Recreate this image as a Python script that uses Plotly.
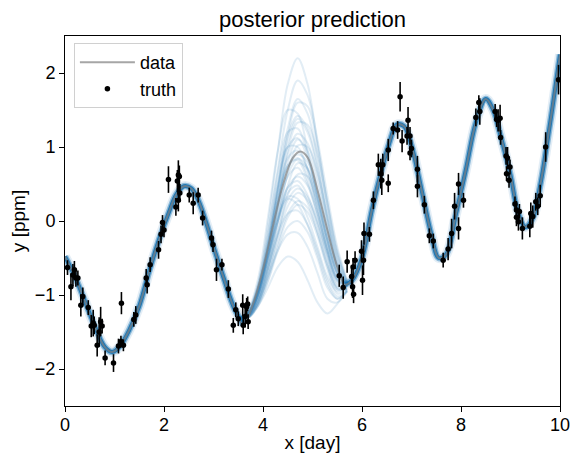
import plotly.graph_objects as go

obs_x = [0.05, 0.12, 0.16, 0.19, 0.22, 0.26, 0.32, 0.36, 0.47, 0.53, 0.57, 0.59, 0.65, 0.69, 0.72,
         0.75, 0.81, 0.98, 1.08, 1.13, 1.14, 1.18, 1.39, 1.43, 1.64, 1.66, 1.72, 1.89, 1.94, 1.97,
         2.00, 2.09, 2.24, 2.27, 2.29, 2.31, 2.29, 2.32, 2.51, 2.59, 2.69, 2.78, 2.96, 2.99, 3.06,
         3.17, 3.30, 3.40, 3.45, 3.50, 3.59, 3.60, 3.64, 3.67, 3.70, 3.69,
         5.54, 5.62, 5.70, 5.79, 5.81, 5.82, 5.83, 5.86, 5.99, 6.01, 6.03, 6.04, 6.15, 6.23, 6.33,
         6.38, 6.40, 6.42, 6.53, 6.53, 6.63, 6.72, 6.77, 6.81, 6.91, 6.93, 6.97, 6.97, 7.00, 7.12,
         7.12, 7.26, 7.36, 7.44, 7.64, 7.74, 7.81, 7.87, 7.95, 7.95, 8.05, 8.30, 8.36, 8.38, 8.69,
         8.72, 8.75, 8.79, 8.80, 8.91, 8.92, 8.94, 8.97, 8.99, 9.09, 9.12, 9.12, 9.16, 9.18, 9.24,
         9.39, 9.41, 9.45, 9.51, 9.55, 9.60, 9.71, 9.97]
obs_y = [-0.63, -0.89, -0.73, -0.66, -0.77, -0.77, -1.14, -1.02, -1.17, -1.42, -1.38, -1.41, -1.68, -1.50, -1.36,
         -1.42, -1.85, -1.92, -1.69, -1.63, -1.11, -1.68, -1.33, -1.27, -0.77, -0.86, -0.59, -0.39, -0.18, -0.02,
         -0.12, 0.56, 0.19, 0.54, 0.62, 0.60, 0.28, 0.38, 0.35, 0.24, 0.35, 0.04, -0.23, -0.32, -0.66,
         -0.59, -0.92, -1.41, -1.20, -1.32, -1.14, -1.41, -1.29, -1.16, -1.36, -1.12,
         -0.74, -0.90, -0.55, -0.75, -0.89, -0.62, -0.99, -0.53, -0.41, -0.80, -0.53, -0.17, -0.18, 0.28, 0.76,
         0.64, 0.55, 0.76, 0.96, 0.51, 1.25, 1.23, 1.68, 1.08, 1.15, 1.36, 1.15, 0.92, 0.98, 0.70,
         0.47, 0.22, -0.20, -0.27, -0.53, -0.38, -0.17, 0.20, -0.10, 0.50, 0.28, 1.40, 1.60, 1.48, 1.48,
         1.37, 1.36, 1.39, 1.13, 0.88, 0.64, 0.85, 0.55, 0.73, 0.23, 0.15, 0.05, -0.01, 0.13, -0.10,
         -0.07, 0.10, 0.06, 0.26, 0.20, 0.34, 1.00, 1.91]
obs_err = [0.10, 0.18, 0.15, 0.12, 0.12, 0.10, 0.15, 0.12, 0.10, 0.15, 0.18, 0.12, 0.15, 0.20, 0.20,
           0.10, 0.10, 0.12, 0.10, 0.08, 0.15, 0.08, 0.10, 0.12, 0.12, 0.12, 0.10, 0.12, 0.12, 0.10,
           0.10, 0.18, 0.12, 0.15, 0.20, 0.15, 0.15, 0.12, 0.10, 0.15, 0.10, 0.10, 0.10, 0.10, 0.15,
           0.08, 0.12, 0.10, 0.10, 0.10, 0.15, 0.12, 0.15, 0.12, 0.10, 0.10,
           0.15, 0.15, 0.15, 0.15, 0.15, 0.12, 0.12, 0.12, 0.15, 0.20, 0.20, 0.15, 0.10, 0.12, 0.15,
           0.20, 0.20, 0.15, 0.15, 0.12, 0.08, 0.12, 0.20, 0.15, 0.12, 0.18, 0.12, 0.10, 0.12, 0.18,
           0.15, 0.12, 0.10, 0.10, 0.10, 0.15, 0.20, 0.18, 0.15, 0.15, 0.10, 0.12, 0.10, 0.18, 0.10,
           0.10, 0.15, 0.18, 0.10, 0.12, 0.10, 0.15, 0.10, 0.10, 0.10, 0.12, 0.12, 0.12, 0.10, 0.15,
           0.15, 0.15, 0.15, 0.12, 0.12, 0.15, 0.20, 0.20]

# true curve
true_x = [0, 0.2, 0.4, 0.6, 0.8, 0.95, 1.1, 1.3, 1.5, 1.7, 1.9, 2.1, 2.25, 2.4, 2.55, 2.7, 2.85, 3.0,
          3.2, 3.4, 3.6, 3.8, 4.0, 4.2, 4.4, 4.6, 4.75, 4.9, 5.1, 5.3, 5.5, 5.65, 5.8, 6.0, 6.2, 6.4,
          6.55, 6.7, 6.85, 7.0, 7.2, 7.4, 7.55, 7.7, 7.9, 8.1, 8.3, 8.5, 8.65, 8.8, 9.0, 9.15, 9.3,
          9.45, 9.6, 9.8, 10.0]
true_y = [-0.48, -0.75, -1.08, -1.42, -1.70, -1.77, -1.70, -1.47, -1.15, -0.68, -0.25, 0.12, 0.36, 0.47,
          0.44, 0.27, -0.02, -0.35, -0.76, -1.15, -1.40, -1.12, -0.65, -0.07, 0.48, 0.85, 0.94, 0.86,
          0.42, -0.12, -0.62, -0.86, -0.80, -0.50, 0.15, 0.70, 1.05, 1.30, 1.28, 1.02, 0.43, -0.18,
          -0.50, -0.45, 0.10, 0.70, 1.33, 1.65, 1.50, 1.15, 0.62, 0.12, -0.08, 0.04, 0.48, 1.32, 2.25]

# posterior draws inside the gap (x = 3.5 ... 5.7)
gap_x = [3.5, 3.7, 3.9, 4.1, 4.3, 4.5, 4.7, 4.9, 5.1, 5.3, 5.5, 5.7]
draws = [
    [-1.32, -1.22, -0.85, -0.05, 0.95, 1.85, 2.20, 1.85, 1.05, 0.25, -0.45, -0.82],
    [-1.32, -1.24, -0.90, -0.20, 0.70, 1.50, 1.90, 1.70, 1.10, 0.35, -0.35, -0.80],
    [-1.32, -1.27, -0.98, -0.40, 0.40, 1.15, 1.60, 1.55, 1.00, 0.20, -0.45, -0.83],
    [-1.32, -1.20, -0.78, 0.05, 0.95, 1.50, 1.45, 0.95, 0.30, -0.30, -0.70, -0.86],
    [-1.32, -1.26, -0.95, -0.35, 0.45, 1.15, 1.42, 1.25, 0.75, 0.05, -0.55, -0.85],
    [-1.32, -1.28, -1.05, -0.55, 0.20, 0.95, 1.33, 1.30, 0.90, 0.25, -0.40, -0.82],
    [-1.32, -1.22, -0.85, -0.15, 0.65, 1.20, 1.25, 0.90, 0.35, -0.25, -0.70, -0.88],
    [-1.32, -1.27, -1.00, -0.45, 0.25, 0.90, 1.18, 1.05, 0.60, -0.05, -0.60, -0.86],
    [-1.32, -1.25, -0.92, -0.30, 0.45, 1.00, 1.12, 0.85, 0.35, -0.20, -0.65, -0.86],
    [-1.32, -1.30, -1.10, -0.65, 0.00, 0.65, 1.02, 1.00, 0.65, 0.05, -0.55, -0.85],
    [-1.32, -1.24, -0.90, -0.30, 0.35, 0.85, 0.95, 0.70, 0.20, -0.35, -0.75, -0.88],
    [-1.32, -1.28, -1.02, -0.50, 0.10, 0.62, 0.84, 0.72, 0.30, -0.25, -0.70, -0.87],
    [-1.32, -1.26, -0.97, -0.45, 0.15, 0.60, 0.72, 0.50, 0.05, -0.45, -0.82, -0.90],
    [-1.32, -1.31, -1.12, -0.72, -0.18, 0.35, 0.63, 0.60, 0.25, -0.25, -0.68, -0.86],
    [-1.32, -1.27, -1.00, -0.50, 0.05, 0.45, 0.54, 0.35, -0.05, -0.55, -0.90, -0.92],
    [-1.32, -1.29, -1.08, -0.65, -0.15, 0.28, 0.44, 0.32, 0.00, -0.45, -0.85, -0.90],
    [-1.32, -1.25, -0.95, -0.45, 0.05, 0.33, 0.30, 0.05, -0.35, -0.75, -0.95, -0.92],
    [-1.32, -1.30, -1.12, -0.75, -0.30, 0.10, 0.27, 0.18, -0.15, -0.60, -0.92, -0.92],
    [-1.32, -1.28, -1.05, -0.62, -0.18, 0.10, 0.14, -0.05, -0.40, -0.80, -1.02, -0.95],
    [-1.32, -1.31, -1.15, -0.82, -0.40, -0.08, 0.00, -0.15, -0.50, -0.90, -1.05, -0.95],
    [-1.32, -1.29, -1.10, -0.75, -0.40, -0.18, -0.16, -0.35, -0.70, -1.05, -1.10, -0.95],
    [-1.32, -1.30, -1.15, -0.90, -0.62, -0.48, -0.55, -0.80, -1.10, -1.25, -1.12, -0.93],
    [-1.32, -1.27, -0.98, -0.40, 0.25, 0.75, 0.90, 0.80, 0.40, -0.15, -0.62, -0.86],
    [-1.32, -1.23, -0.88, -0.25, 0.50, 1.00, 1.00, 0.70, 0.15, -0.40, -0.78, -0.88],
    [-1.32, -1.29, -1.05, -0.58, 0.00, 0.45, 0.60, 0.48, 0.10, -0.40, -0.80, -0.88],
    [-1.32, -1.25, -0.93, -0.32, 0.50, 1.25, 1.65, 1.45, 0.85, 0.10, -0.50, -0.84],
    [-1.32, -1.26, -0.96, -0.38, 0.38, 1.05, 1.38, 1.20, 0.70, 0.00, -0.60, -0.86],
    [-1.32, -1.28, -1.00, -0.48, 0.20, 0.80, 1.10, 0.95, 0.50, -0.10, -0.62, -0.86],
    [-1.32, -1.24, -0.92, -0.35, 0.30, 0.75, 0.82, 0.55, 0.10, -0.40, -0.80, -0.89],
    [-1.32, -1.29, -1.06, -0.62, -0.05, 0.48, 0.78, 0.70, 0.30, -0.25, -0.72, -0.87],
    [-1.32, -1.27, -1.00, -0.52, 0.00, 0.38, 0.48, 0.25, -0.15, -0.60, -0.92, -0.92],
    [-1.32, -1.30, -1.10, -0.70, -0.22, 0.20, 0.38, 0.28, -0.05, -0.50, -0.88, -0.90],
    [-1.32, -1.26, -0.98, -0.50, 0.00, 0.30, 0.22, -0.05, -0.45, -0.85, -1.05, -0.94],
    [-1.32, -1.31, -1.14, -0.80, -0.35, 0.05, 0.22, 0.12, -0.20, -0.65, -0.98, -0.93],
    [-1.32, -1.25, -0.95, -0.40, 0.25, 0.72, 0.85, 0.62, 0.18, -0.35, -0.78, -0.88],
]

blue = "31,119,180"
fig = go.Figure()

# where the data constrain it, the draws pile up into a tight band
left = [(x, y) for x, y in zip(true_x, true_y) if x <= 3.6]
right = [(x, y) for x, y in zip(true_x, true_y) if x >= 5.65]
for seg in (left, right):
    sx = [p[0] for p in seg]
    sy = [p[1] for p in seg]
    for w, a in [(10, 0.12), (6.5, 0.45), (4, 1.0)]:
        fig.add_trace(go.Scatter(x=sx, y=sy, mode="lines", showlegend=False, hoverinfo="skip",
                                 line=dict(color=f"rgba({blue},{a})", width=w, shape="spline")))

for d in draws:
    fig.add_trace(go.Scatter(x=gap_x, y=d, mode="lines", showlegend=False, hoverinfo="skip",
                             line=dict(color=f"rgba({blue},0.13)", width=2, shape="spline")))

fig.add_trace(go.Scatter(x=true_x, y=true_y, mode="lines", name="data", legendrank=1,
                         line=dict(color="rgba(128,128,128,0.7)", width=2, shape="spline")))

fig.add_trace(go.Scatter(x=obs_x, y=obs_y, mode="markers", name="truth", legendrank=2,
                         marker=dict(color="black", size=5.5),
                         error_y=dict(type="data", array=obs_err, color="black", thickness=1.6, width=0)))

# the page puts the figure 8px in from the top-left corner, so margins are pulled in by that much
fig.update_layout(
    width=581, height=465,
    margin=dict(l=57, r=29, t=28, b=67),
    paper_bgcolor="white", plot_bgcolor="white",
    font=dict(family="Liberation Sans, Arial, sans-serif", size=18, color="black"),
    title=dict(text="posterior prediction", xref="paper", x=0.5, xanchor="center",
               y=0.975, yanchor="middle", font=dict(size=22)),
    legend=dict(x=0.018, y=0.981, xanchor="left", yanchor="top", bgcolor="rgba(255,255,255,0.8)",
                bordercolor="#d0d0d0", borderwidth=1, font=dict(size=18), tracegroupgap=2,
                itemwidth=55),
)
fig.update_xaxes(range=[0, 10], tickvals=[0, 2, 4, 6, 8, 10], automargin=False, ticklabelstandoff=-3,
                 title=dict(text="x [day]", standoff=2, font=dict(size=19)),
                 showline=True, linecolor="black", linewidth=1, mirror=True, showgrid=False,
                 zeroline=False, ticks="outside", ticklen=5, tickcolor="black")
fig.update_yaxes(range=[-2.5, 2.5], tickvals=[-2, -1, 0, 1, 2], automargin=False,
                 title=dict(text="y [ppm]", standoff=11, font=dict(size=19)),
                 showline=True, linecolor="black", linewidth=1, mirror=True, showgrid=False,
                 zeroline=False, ticks="outside", ticklen=5, tickcolor="black")

fig.write_html("out.html")
